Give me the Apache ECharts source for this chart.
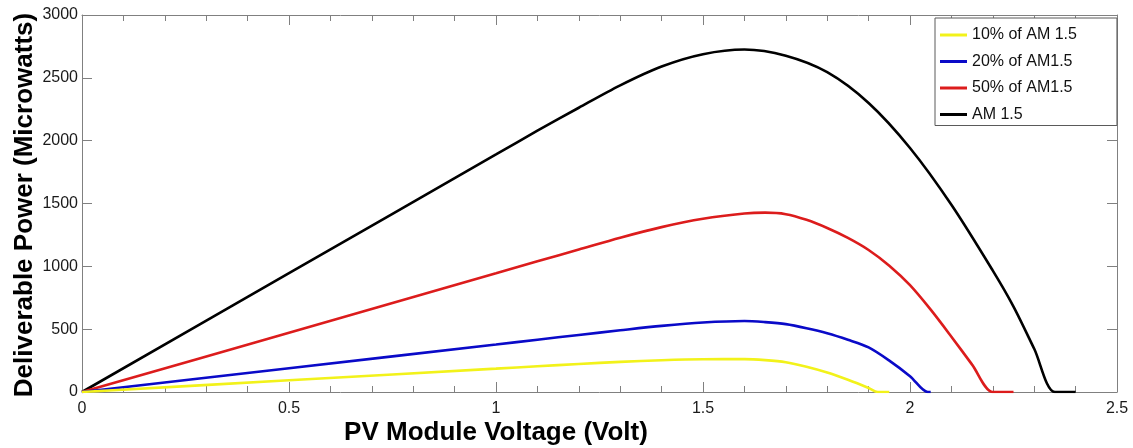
<!DOCTYPE html>
<html>
<head>
<meta charset="utf-8">
<script src="https://cdn.jsdelivr.net/npm/echarts@6/dist/echarts.min.js"></script>
<style>
html,body{margin:0;padding:0;background:#fff;}
#chart{width:1133px;height:448px;}
</style>
</head>
<body>
<div id="chart"></div>
<script>
// ---- data ----
var seriesNames = ['10% of AM 1.5', '20% of AM1.5', '50% of AM1.5', 'AM 1.5'];

var v10 = [0, 0.5, 1.0, 1.1, 1.2, 1.3, 1.4, 1.5, 1.6, 1.65, 1.7, 1.75, 1.8, 1.85, 1.9, 1.922, 1.95];
var p10 = [0, 93, 186, 205, 223, 240, 253, 261, 262, 254, 237, 201, 155, 97, 32, 0, 0];

var v20 = [0, 0.5, 1.0, 1.1, 1.2, 1.3, 1.4, 1.5, 1.6, 1.65, 1.7, 1.75, 1.8, 1.85, 1.9, 1.95, 2.0, 2.043, 2.05];
var p20 = [0, 189, 378, 416, 454, 491, 526, 553, 565, 556, 540, 508, 468, 416, 355, 250, 126, 0, 0];

var v50 = [0, 0.5, 1.0, 1.1, 1.2, 1.3, 1.4, 1.5, 1.6, 1.65, 1.7, 1.75, 1.8, 1.85, 1.9, 1.95, 2.0, 2.05, 2.1, 2.15, 2.2, 2.25];
var p50 = [0, 472, 945, 1040, 1134, 1228, 1312, 1378, 1420, 1427, 1415, 1370, 1305, 1226, 1130, 1005, 850, 655, 440, 218, 0, 0];

var v100 = [0, 0.5, 1.0, 1.1, 1.2, 1.3, 1.4, 1.5, 1.6, 1.7, 1.8, 1.9, 2.0, 2.1, 2.2, 2.25, 2.3, 2.35, 2.40];
var p100 = [0, 945, 1890, 2079, 2262, 2440, 2590, 2688, 2725, 2676, 2545, 2300, 1942, 1490, 966, 680, 344, 0, 0];

var colors = ['#f2f21a', '#0a0ac8', '#dc1c1c', '#000000'];

var xMin = 0, xMax = 2.5, xStep = 0.5;
var yMin = 0, yMax = 3000, yStep = 500;

function pairs(xs, ys) {
  var out = [];
  for (var i = 0; i < xs.length; i++) out.push([xs[i], ys[i]]);
  return out;
}
var allV = [v10, v20, v50, v100];
var allP = [p10, p20, p50, p100];

var FONT = '"Liberation Sans", Arial, Helvetica, sans-serif';

var chart = echarts.init(document.getElementById('chart'), null, {renderer: 'canvas'});

var series = seriesNames.map(function (name, i) {
  return {
    name: name,
    type: 'line',
    data: pairs(allV[i], allP[i]),
    showSymbol: false,
    symbol: 'none',
    smooth: 0.3,
    color: colors[i],
    lineStyle: {width: 2.6, color: colors[i]},
    z: 10 - i,
    animation: false
  };
});

var axisLineStyle = {color: '#808080', width: 1};

chart.setOption({
  animation: false,
  backgroundColor: '#ffffff',
  grid: {left: 82, right: 16, top: 15, bottom: 56, containLabel: false},
  xAxis: [{
    type: 'value', min: xMin, max: xMax, interval: xStep,
    position: 'bottom',
    axisLine: {show: true, onZero: false, lineStyle: axisLineStyle},
    axisTick: {show: true, inside: true, length: 10, lineStyle: axisLineStyle},
    minorTick: {show: true, splitNumber: 5, length: 6, lineStyle: axisLineStyle},
    splitLine: {show: false},
    axisLabel: {color: '#1a1a1a', fontSize: 16, fontFamily: FONT, margin: 9}
  }, {
    type: 'value', min: xMin, max: xMax, interval: xStep,
    position: 'top',
    axisLine: {show: true, onZero: false, lineStyle: axisLineStyle},
    axisTick: {show: true, inside: true, length: 10, lineStyle: axisLineStyle},
    minorTick: {show: true, splitNumber: 5, length: 6, lineStyle: axisLineStyle},
    splitLine: {show: false},
    axisLabel: {show: false}
  }],
  yAxis: [{
    type: 'value', min: yMin, max: yMax, interval: yStep,
    position: 'left',
    axisLine: {show: true, onZero: false, lineStyle: axisLineStyle},
    axisTick: {show: true, inside: true, length: 10, lineStyle: axisLineStyle},
    splitLine: {show: false},
    axisLabel: {color: '#1a1a1a', fontSize: 16, fontFamily: FONT, margin: 4,
      formatter: function (v) { return String(v); }}
  }, {
    type: 'value', min: yMin, max: yMax, interval: yStep,
    position: 'right',
    axisLine: {show: true, onZero: false, lineStyle: axisLineStyle},
    axisTick: {show: true, inside: true, length: 10, lineStyle: axisLineStyle},
    splitLine: {show: false},
    axisLabel: {show: false}
  }],
  legend: {
    show: true,
    orient: 'vertical',
    left: 935, top: 18,
    icon: 'rect',
    itemWidth: 27, itemHeight: 3,
    itemGap: 10.5,
    padding: [9, 40, 3, 5],
    backgroundColor: '#ffffff',
    borderColor: '#5a5a5a',
    borderWidth: 1,
    borderRadius: 0,
    selectedMode: false,
    textStyle: {color: '#111', fontSize: 16, fontFamily: FONT, lineHeight: 16, padding: [0, 0, 0, 0]},
    data: seriesNames
  },
  graphic: [{
    type: 'text',
    x: 496, y: 433,
    style: {
      text: 'PV Module Voltage (Volt)',
      font: 'bold 26px ' + FONT,
      fill: '#000',
      align: 'center',
      verticalAlign: 'middle'
    }
  }, {
    type: 'text',
    x: 24.5, y: 205,
    rotation: Math.PI / 2,
    style: {
      text: 'Deliverable Power (Microwatts)',
      font: 'bold 26px ' + FONT,
      fill: '#000',
      align: 'center',
      verticalAlign: 'middle'
    }
  }],
  series: series
});
</script>
</body>
</html>
